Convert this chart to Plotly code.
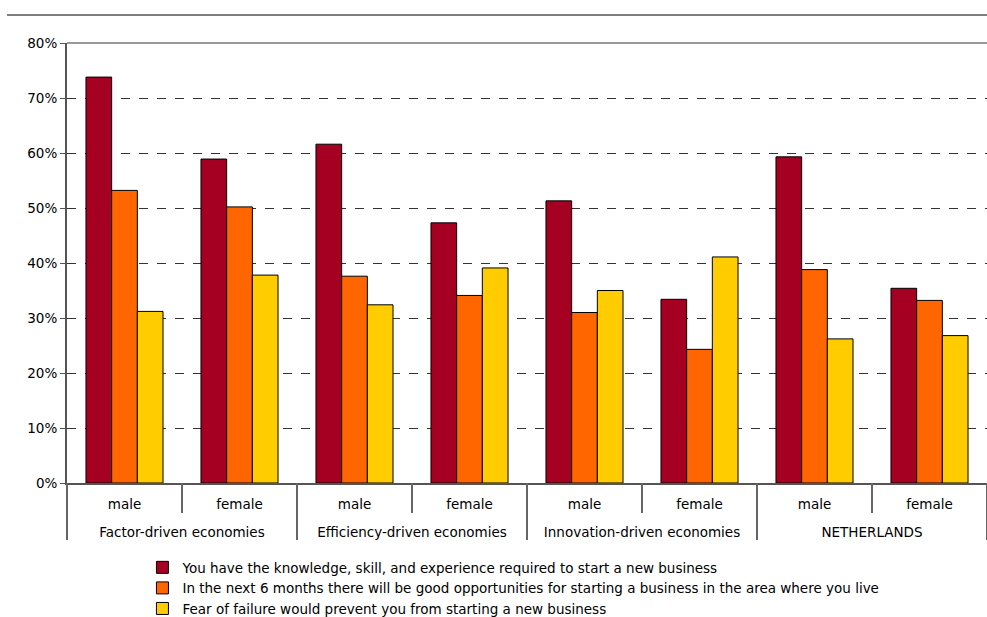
import plotly.graph_objects as go

groups = ["Factor-driven economies", "Efficiency-driven economies",
          "Innovation-driven economies", "NETHERLANDS"]
genders = ["male", "female"]
keys = [f"{g}|{s}" for g in groups for s in genders]
inner = [s for _ in groups for s in genders]

series_names = [
    "You have the knowledge, skill, and experience required to start a new business",
    "In the next 6 months there will be good opportunities for starting a business in the area where you live",
    "Fear of failure would prevent you from starting a new business",
]
knowledge = [73.8, 58.9, 61.6, 47.3, 51.3, 33.4, 59.3, 35.4]
opportunities = [53.2, 50.2, 37.6, 34.1, 31.0, 24.3, 38.8, 33.2]
fear = [31.2, 37.8, 32.4, 39.1, 35.0, 41.1, 26.2, 26.8]
colors = ["#A50021", "#FF6600", "#FFCC00"]

fig = go.Figure()
for name, vals, col in zip(series_names, [knowledge, opportunities, fear], colors):
    fig.add_trace(go.Bar(
        x=keys, y=vals, name=name,
        marker=dict(color=col, line=dict(color="#000000", width=1)),
    ))

n = len(keys)
ng = len(genders)
fig.update_layout(
    width=987, height=617,
    margin=dict(l=67, r=0, t=43, b=134, autoexpand=False),
    paper_bgcolor="white", plot_bgcolor="white",
    barmode="group", bargap=0.33, bargroupgap=0,
    font=dict(family="DejaVu Sans", size=13.5, color="#000000"),
    showlegend=True,
    legend=dict(x=0.082, y=-0.157, xanchor="left", yanchor="top",
                orientation="v", font=dict(size=13.5), traceorder="normal",
                itemwidth=30, bgcolor="rgba(0,0,0,0)"),
    xaxis=dict(type="category", categoryarray=keys, range=[-0.5, n - 0.5],
               tickvals=keys, ticktext=inner, automargin=False,
               showline=True, linecolor="#555555", linewidth=2,
               ticks="", showgrid=False, ticklabelstandoff=8,
               tickfont=dict(size=13.5)),
    xaxis2=dict(overlaying="x", anchor="y", side="bottom", range=[-0.5, n - 0.5],
                tickvals=[i * ng + (ng - 1) / 2 for i in range(len(groups))],
                ticktext=groups, showline=False, ticks="", showgrid=False,
                zeroline=False, automargin=False, ticklabelstandoff=39,
                tickfont=dict(size=13.5)),
)
# dummy invisible trace to keep xaxis2 alive
fig.add_trace(go.Scatter(x=[-0.5, n - 0.5], y=[None, None], xaxis="x2",
                         showlegend=False, hoverinfo="skip", mode="lines"))
fig.update_yaxes(range=[0, 80], dtick=10, ticksuffix="%", automargin=False,
                 showline=True, linecolor="#555555", linewidth=2,
                 ticks="outside", ticklen=5, tickcolor="#555555",
                 showgrid=True, gridcolor="#333333", griddash="dash", gridwidth=1,
                 zeroline=False, tickfont=dict(size=13.5))

# separators: short between genders, long between groups
for k in range(n + 1):
    depth = 57 if k % ng == 0 else 30
    fig.add_shape(type="line", xref="paper", yref="paper",
                  x0=k / n, x1=k / n, y0=0, y1=-depth / 440,
                  line=dict(color="#666666", width=2))
# top solid line at 80%
fig.add_shape(type="line", xref="paper", yref="paper", x0=0, x1=1, y0=1, y1=1,
              line=dict(color="#999999", width=2))
# page rule
fig.add_shape(type="line", xref="paper", yref="paper", x0=-60 / 920, x1=1,
              y0=1 + 28 / 440, y1=1 + 28 / 440, line=dict(color="#000000", width=1))

fig.write_html("out.html")
